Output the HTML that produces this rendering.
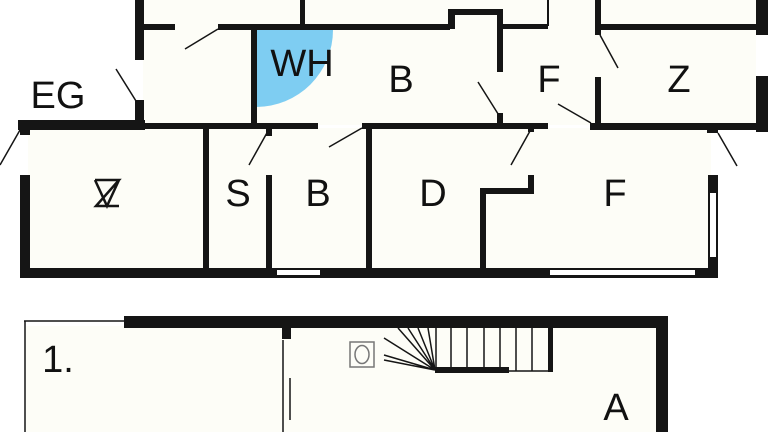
<!DOCTYPE html>
<html><head><meta charset="utf-8"><style>
html,body{margin:0;padding:0;background:#fff;width:768px;height:432px;overflow:hidden}
svg{display:block}
text{font-family:"Liberation Sans","DejaVu Sans",sans-serif;fill:#111}
</style></head><body>
<svg width="768" height="432" viewBox="0 0 768 432">
<g fill="#fdfdf7">
<rect x="143" y="0" width="613" height="125"/>
<rect x="28" y="128" width="683" height="142"/>
<rect x="26" y="326" width="632" height="106"/>
</g>
<path d="M256 30 L333 30 A77 77 0 0 1 256 107 Z" fill="#7ecdf2"/>
<g fill="#151515">
<rect x="135" y="0" width="9" height="60"/>
<rect x="135" y="100" width="9" height="28"/>
<rect x="143" y="24" width="32" height="6"/>
<rect x="218" y="24" width="232" height="6"/>
<rect x="300" y="0" width="5" height="27"/>
<rect x="448" y="9" width="7" height="20"/>
<rect x="450" y="9" width="53" height="6"/>
<rect x="497" y="9" width="6" height="63"/>
<rect x="497" y="113" width="6" height="12"/>
<rect x="503" y="24" width="45" height="5"/>
<rect x="547" y="0" width="2" height="26"/>
<rect x="595" y="0" width="6" height="35"/>
<rect x="595" y="77" width="6" height="50"/>
<rect x="600" y="24" width="156" height="6"/>
<rect x="756" y="0" width="12" height="35"/>
<rect x="756" y="76" width="12" height="56"/>
<rect x="251" y="28" width="6" height="98"/>
<rect x="18" y="120" width="127" height="10"/>
<rect x="143" y="123" width="175" height="6"/>
<rect x="362" y="123" width="186" height="6"/>
<rect x="590" y="123" width="178" height="7"/>
<rect x="707" y="123" width="11" height="10"/>
<rect x="20" y="120" width="10" height="15"/>
<rect x="20" y="175" width="10" height="103"/>
<rect x="20" y="268" width="698" height="10"/>
<rect x="708" y="175" width="10" height="103"/>
<rect x="203" y="128" width="6" height="140"/>
<rect x="266" y="128" width="6" height="8"/>
<rect x="266" y="175" width="6" height="93"/>
<rect x="366" y="128" width="6" height="140"/>
<rect x="480" y="188" width="6" height="80"/>
<rect x="480" y="188" width="54" height="6"/>
<rect x="528" y="175" width="6" height="19"/>
<rect x="528" y="128" width="6" height="4"/>
<rect x="124" y="316" width="544" height="12"/>
<rect x="656" y="316" width="12" height="116"/>
<rect x="282" y="326" width="9" height="13"/>
</g>
<g fill="#fff">
<rect x="277" y="270" width="43" height="5"/>
<rect x="550" y="270" width="145" height="5"/>
<rect x="710" y="193" width="6" height="64"/>
<rect x="759" y="36" width="6" height="38"/>
</g>
<g stroke="#151515" fill="none" stroke-width="1.5">
<path d="M24 321H124 M25 321V432"/>
<path d="M283 340V432 M290 378V420"/>
<path d="M185 49L218 29 M116 69L136 101 M0 165L20 130 M249 165L268 131 M329 147L362 128 M478 82L500 117 M511 165L530 131 M558 104L591 123 M618 68L600 35 M737 166L718 133"/>
<rect x="350" y="342" width="24" height="25" stroke="#777"/>
<ellipse cx="362" cy="354.5" rx="7" ry="9" stroke="#777"/>
<path d="M435 370L398 328 M435 370L408 328 M435 370L418 328 M435 370L428 328 M435 370L384 338 M435 370L384 355 M435 370L384 360"/>
<path d="M436 328V371 M451 328V371 M467 328V371 M484 328V371 M500 328V371 M516 328V371 M532 328V371 M508 371H551"/>
</g>
<rect x="548" y="328" width="5" height="44" fill="#151515"/>
<rect x="435" y="367" width="74" height="6" fill="#151515"/>
<g font-size="38" text-anchor="middle">
<text x="58" y="108">EG</text>
<text x="302" y="76">WH</text>
<text x="401" y="92">B</text>
<text x="549" y="92">F</text>
<text x="679" y="92">Z</text>
<text x="238" y="206">S</text>
<text x="318" y="206">B</text>
<text x="433" y="206">D</text>
<text x="615" y="206">F</text>
<text x="616" y="420">A</text>
<text x="58" y="372">1.</text>
</g>
<path d="M95 180H119L96 206H119 M95 180L107 206L119 180" stroke="#151515" stroke-width="2.5" fill="none"/>
</svg>
</body></html>
